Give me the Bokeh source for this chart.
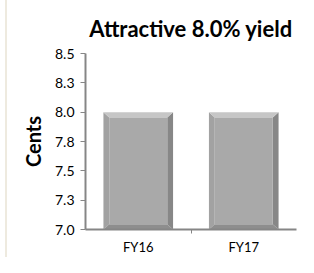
from bokeh.plotting import figure
from bokeh.models import Range1d, FixedTicker, Div
from bokeh.layouts import row
from bokeh.embed import file_html
from bokeh.resources import INLINE

categories = ["FY16", "FY17"]
values = [8.0, 8.0]
y_ticks = [7.0, 7.25, 7.5, 7.75, 8.0, 8.25, 8.5]
y_tick_labels = ["7.0", "7.3", "7.5", "7.8", "8.0", "8.3", "8.5"]
title_text = "Attractive 8.0% yield"
y_label = "Cents"

FONT = "Lato"
AXIS_COLOR = "#868686"
BASE = 7.0

p = figure(width=291, height=257, output_backend="svg", toolbar_location=None,
           x_range=Range1d(0, len(categories)), y_range=Range1d(y_ticks[0], y_ticks[-1]),
           min_border_left=78, min_border_right=2, min_border_top=47, min_border_bottom=22)
p.outline_line_color = None
p.grid.visible = False

# bars with bevel
bw = 0.66
bx = 0.055  # bevel width in x units
by = 0.045  # bevel height in y units
xs_top, ys_top, xs_l, ys_l, xs_r, ys_r, xs_b, ys_b = [], [], [], [], [], [], [], []
lefts, rights, tops, bottoms = [], [], [], []
for i, v in enumerate(values):
    c = i + 0.5
    L, R, T, B = c - bw / 2, c + bw / 2, v, BASE
    iL, iR, iT, iB = L + bx, R - bx, T - by, B + by
    xs_top.append([L, R, iR, iL]); ys_top.append([T, T, iT, iT])
    xs_l.append([L, iL, iL, L]); ys_l.append([T, iT, iB, B])
    xs_r.append([R, iR, iR, R]); ys_r.append([T, iT, iB, B])
    xs_b.append([L, iL, iR, R]); ys_b.append([B, iB, iB, B])
    lefts.append(iL); rights.append(iR); tops.append(iT); bottoms.append(iB)

p.patches(xs_l, ys_l, fill_color="#A2A2A2", line_color=None)
p.patches(xs_r, ys_r, fill_color="#878787", line_color=None)
p.patches(xs_b, ys_b, fill_color="#8E8E8E", line_color=None)
p.patches(xs_top, ys_top, fill_color="#C6C6C6", line_color=None)
p.quad(left=lefts, right=rights, top=tops, bottom=bottoms, fill_color="#A9A9A9", line_color=None)

# title
p.title.text = title_text
p.title.align = "center"
p.title.text_font = FONT
p.title.text_font_style = "bold"
p.title.text_font_size = "22px"
p.title.text_color = "#000000"
p.title.offset = 0
p.title.standoff = 24

# y axis
ya = p.yaxis[0]
ya.ticker = FixedTicker(ticks=y_ticks, minor_ticks=[])
ya.major_label_overrides = {t: l for t, l in zip(y_ticks, y_tick_labels)}
ya.axis_label = y_label
ya.axis_label_text_font = FONT
ya.axis_label_text_font_style = "bold"
ya.axis_label_text_font_size = "20px"
ya.axis_label_text_color = "#000000"
ya.axis_label_standoff = 7
ya.major_label_text_font = FONT
ya.major_label_text_font_size = "14px"
ya.major_label_text_color = "#000000"
ya.major_label_standoff = 6
ya.axis_line_color = AXIS_COLOR
ya.axis_line_width = 2
ya.major_tick_line_color = AXIS_COLOR
ya.major_tick_line_width = 1
ya.major_tick_in = 0
ya.major_tick_out = 5

# x axis
xa = p.xaxis[0]
centers = [i + 0.5 for i in range(len(categories))]
xa.ticker = FixedTicker(ticks=centers, minor_ticks=list(range(1, len(categories))))
xa.major_label_overrides = {c: n for c, n in zip(centers, categories)}
xa.major_label_text_font = FONT
xa.major_label_text_font_size = "13px"
xa.major_label_text_color = "#000000"
xa.major_label_standoff = 3
xa.major_tick_line_color = None
xa.minor_tick_line_color = AXIS_COLOR
xa.minor_tick_in = 0
xa.minor_tick_out = 4
xa.axis_line_color = AXIS_COLOR
xa.axis_line_width = 2

border = Div(text="", width=7, height=257, margin=0,
             styles={"border-right": "2px solid #EEEADF", "box-sizing": "border-box"})

layout = row(border, p, spacing=0)
open("out.html", "w").write(file_html(layout, INLINE))
